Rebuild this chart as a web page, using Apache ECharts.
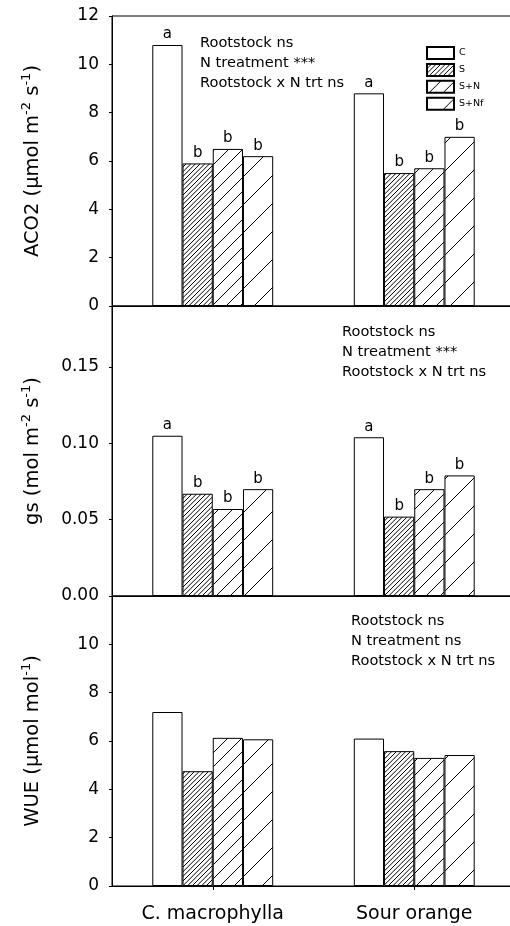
<!DOCTYPE html>
<html>
<head>
<meta charset="utf-8">
<script src="https://cdn.jsdelivr.net/npm/echarts@6/dist/echarts.min.js"></script>
<style>
html,body{margin:0;padding:0;background:#fff;}
#chart{width:510px;height:926px;}
</style>
</head>
<body>
<div id="chart"></div>
<script>
// ---- data ----
const categories = ['C. macrophylla', 'Sour orange'];
const treatments = ['C', 'S', 'S+N', 'S+Nf'];

// values per treatment: [C. macrophylla, Sour orange]
const aco2C = [10.8, 8.8];
const aco2S = [5.9, 5.5];
const aco2SN = [6.5, 5.7];
const aco2SNf = [6.2, 7.0];

const gsC = [0.105, 0.104];
const gsS = [0.067, 0.052];
const gsSN = [0.057, 0.070];
const gsSNf = [0.070, 0.079];

const wueC = [7.2, 6.1];
const wueS = [4.75, 5.58];
const wueSN = [6.13, 5.3];
const wueSNf = [6.07, 5.42];

const aco2Letters = [['a', 'a'], ['b', 'b'], ['b', 'b'], ['b', 'b']];
const gsLetters = [['a', 'a'], ['b', 'b'], ['b', 'b'], ['b', 'b']];
const wueLetters = [['', ''], ['', ''], ['', ''], ['', '']];

const aco2Stats = ['Rootstock ns', 'N treatment ***', 'Rootstock x N trt ns'];
const gsStats = ['Rootstock ns', 'N treatment ***', 'Rootstock x N trt ns'];
const wueStats = ['Rootstock ns', 'N treatment ns', 'Rootstock x N trt ns'];

const aco2Name = 'ACO2 (µmol m{sup|-2} s{sup|-1})';
const gsName = 'gs (mol m{sup|-2} s{sup|-1})';
const wueName = 'WUE (µmol mol{sup|-1})';

// ---- styling helpers ----
const FONT = 'DejaVu Sans';
function hatch(T, n, lw) {
  const c = document.createElement('canvas');
  c.width = T; c.height = T;
  const g = c.getContext('2d');
  g.fillStyle = '#fff'; g.fillRect(0, 0, T, T);
  g.strokeStyle = '#000'; g.lineWidth = lw;
  g.beginPath();
  for (let j = 0; j <= 2 * n; j++) {
    const cc = j * T / n;
    g.moveTo(-2, cc + 2);
    g.lineTo(cc + 2, -2);
  }
  g.stroke();
  return { image: c, repeat: 'repeat' };
}
const fills = ['#ffffff', hatch(14, 3, 1), hatch(14, 1, 1), hatch(28, 1, 1)];

const panels = [
  { values: [aco2C, aco2S, aco2SN, aco2SNf], letters: aco2Letters, max: 12, interval: 2, name: aco2Name, fmt: v => String(v), showMax: true },
  { values: [gsC, gsS, gsSN, gsSNf], letters: gsLetters, max: 0.19, interval: 0.05, name: gsName, fmt: v => v.toFixed(2), showMax: false },
  { values: [wueC, wueS, wueSN, wueSNf], letters: wueLetters, max: 12, interval: 2, name: wueName, fmt: v => String(v), showMax: false }
];

const gridTops = [16, 306, 596];
const grid = gridTops.map(t => ({
  left: 112, width: 403, top: t, height: 290,
  containLabel: false, outerBoundsMode: 'none',
  show: true, borderColor: '#000', borderWidth: 1, backgroundColor: 'transparent'
}));

const xAxis = panels.map((p, i) => ({
  type: 'category', gridIndex: i, data: categories,
  axisLine: { show: true, lineStyle: { color: '#000', width: 1 } },
  axisTick: { show: i === 2, alignWithLabel: true, length: 4, lineStyle: { color: '#000' } },
  axisLabel: { show: i === 2, margin: 19, fontFamily: FONT, fontSize: 19, color: '#000' }
}));

const yAxis = panels.map((p, i) => ({
  type: 'value', gridIndex: i, min: 0, max: p.max, interval: p.interval,
  axisLine: { show: true, lineStyle: { color: '#000', width: 1 } },
  axisTick: { show: true, length: 3, lineStyle: { color: '#000' } },
  splitLine: { show: false },
  axisLabel: { margin: 13, fontFamily: FONT, fontSize: 17, color: '#000', formatter: p.fmt, showMaxLabel: p.showMax },
  name: p.name, nameLocation: 'middle', nameRotate: 90, nameGap: 66,
  nameTextStyle: {
    fontFamily: FONT, fontSize: 19.5, color: '#000', lineHeight: 26,
    rich: { sup: { fontFamily: FONT, fontSize: 13, color: '#000', verticalAlign: 'top', lineHeight: 14 } }
  }
}));

const series = [];
panels.forEach((p, i) => {
  treatments.forEach((t, k) => {
    series.push({
      type: 'bar', name: t, xAxisIndex: i, yAxisIndex: i,
      data: p.values[k],
      barGap: '0%', barCategoryGap: '40%',
      itemStyle: { color: fills[k], borderColor: '#000', borderWidth: 1 },
      label: {
        show: true, position: 'top', distance: 3,
        fontFamily: FONT, fontSize: 15, color: '#000',
        formatter: prm => p.letters[k][prm.dataIndex]
      },
      emphasis: { disabled: true },
      silent: true
    });
  });
});

function statText(lines, left, top) {
  return {
    type: 'text', left: left, top: top, silent: true,
    style: { text: lines.join('\n'), fontFamily: FONT, fontSize: 14.6, lineHeight: 20, fill: '#000' }
  };
}

const option = {
  animation: false,
  backgroundColor: '#fff',
  grid: grid,
  xAxis: xAxis,
  yAxis: yAxis,
  legend: {
    data: treatments, orient: 'vertical', left: 426, top: 46,
    icon: 'rect', itemWidth: 27, itemHeight: 12, itemGap: 2.9, padding: 0,
    textStyle: { fontFamily: FONT, fontSize: 9.5, color: '#000' },
    selectedMode: false
  },
  graphic: [
    statText(aco2Stats, 200, 33),
    statText(gsStats, 342, 322),
    statText(wueStats, 351, 611)
  ],
  series: series
};

const chart = echarts.init(document.getElementById('chart'), null, { renderer: 'canvas' });
chart.setOption(option);
</script>
</body>
</html>
